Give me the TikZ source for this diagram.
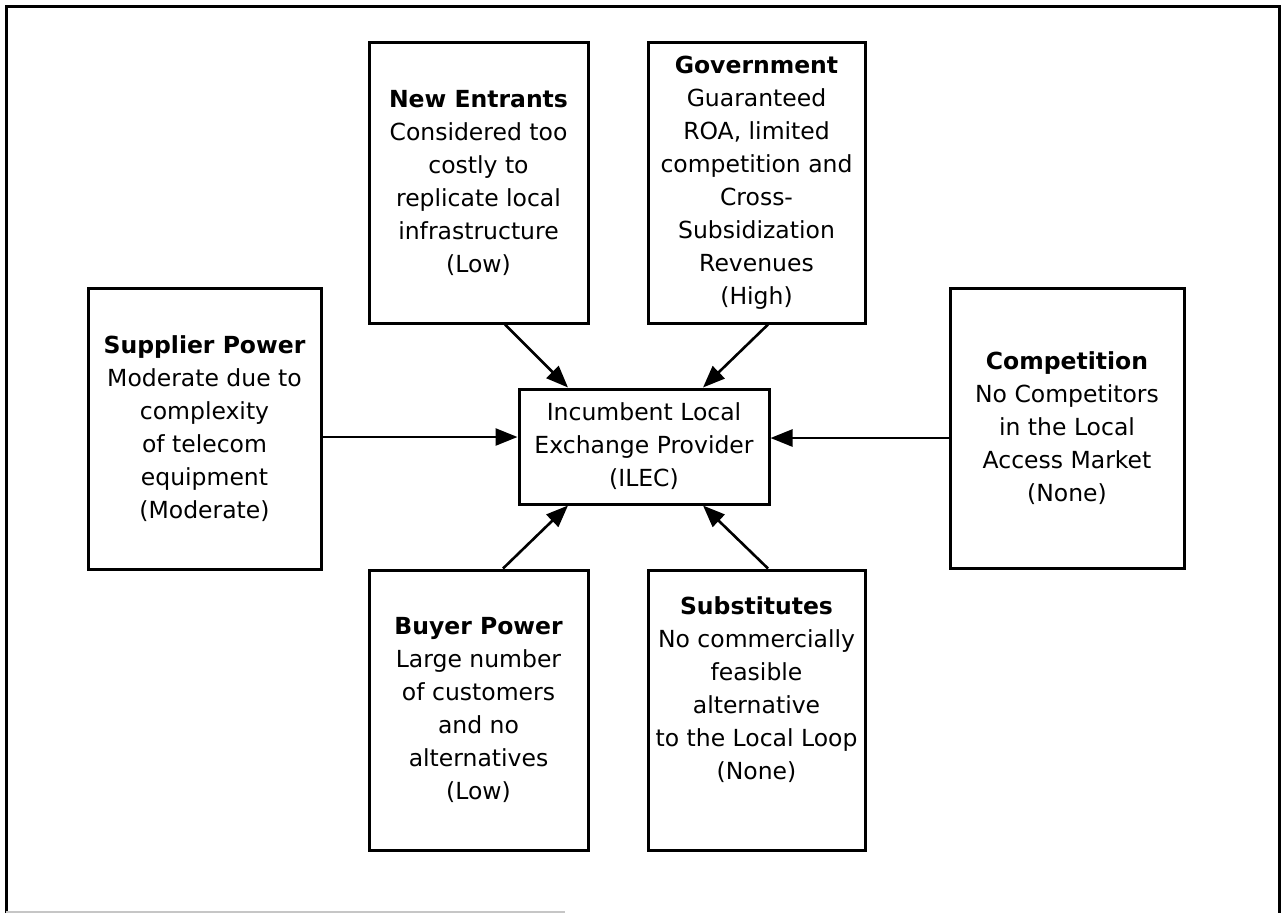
\documentclass[tikz,border=0pt]{standalone}
\usepackage{fontspec}
\setmainfont{DejaVu Sans}
\usetikzlibrary{arrows.meta,calc}
\tikzset{
  forcebox/.style={draw=black, line width=3pt, inner sep=0pt, align=center,
    font=\fontsize{23.5}{33}\selectfont},
  forcearrow/.style={line width=2.6pt, -{Triangle[length=22pt,width=17pt]}},
}
\begin{document}
\begin{tikzpicture}[x=1pt,y=-1pt]
\useasboundingbox (0,0) rectangle (1282,914);
% outer frame
\draw[line width=3pt] (6,913) -- (6,6) -- (1279,6) -- (1279,913);
\draw[line width=1.5pt, gray!45] (6,912) -- (565,912);

\node[forcebox, minimum width=219pt, minimum height=281pt] (ne) at (478.5,182.5)
  {\textbf{New Entrants}\\Considered too\\costly to\\replicate local\\infrastructure\\(Low)};
\node[forcebox, minimum width=217pt, minimum height=281pt] (gov) at (756.5,182.5)
  {\textbf{Government}\\Guaranteed\\ROA, limited\\competition and\\Cross-\\Subsidization\\Revenues\\(High)};
\node[forcebox, minimum width=233pt, minimum height=281pt] (sup) at (204.5,428.5)
  {\textbf{Supplier Power}\\Moderate due to\\complexity\\of telecom\\equipment\\(Moderate)};
\node[forcebox, minimum width=234pt, minimum height=280pt] (comp) at (1067,428)
  {\textbf{Competition}\\No Competitors\\in the Local\\Access Market\\(None)};
\node[forcebox, minimum width=219pt, minimum height=280pt] (buy) at (478.5,710)
  {\textbf{Buyer Power}\\Large number\\of customers\\and no\\alternatives\\(Low)};
\node[forcebox, minimum width=217pt, minimum height=280pt] (sub) at (756.5,710)
  {\textbf{Substitutes}\\No commercially\\feasible\\alternative\\to the Local Loop\\(None)\\\strut};
\node[forcebox, minimum width=250pt, minimum height=115pt] (ilec) at (644,446.5)
  {Incumbent Local\\Exchange Provider\\(ILEC)};

% connectors
\draw[forcearrow] ($(ne.south)+(26.5,0)$) -- ($(ilec.north)+(-76,0)$);
\draw[forcearrow] ($(gov.south)+(11.5,0)$) -- ($(ilec.north)+(59,0)$);
\draw[forcearrow] ($(sup.east)+(0,8.5)$) -- ($(ilec.west)+(0,-9.5)$);
\draw[forcearrow] ($(comp.west)+(0,10)$) -- ($(ilec.east)+(0,-8.5)$);
\draw[forcearrow] ($(buy.north)+(24.5,0)$) -- ($(ilec.south)+(-76,0)$);
\draw[forcearrow] ($(sub.north)+(11.5,0)$) -- ($(ilec.south)+(59,0)$);
\end{tikzpicture}
\end{document}
